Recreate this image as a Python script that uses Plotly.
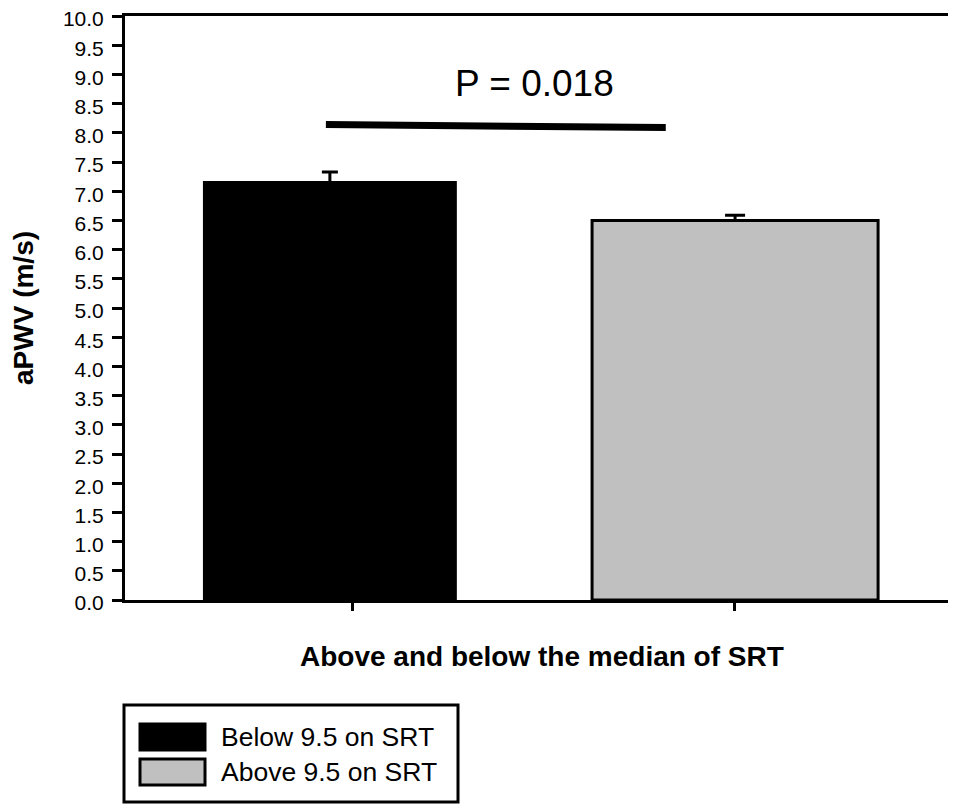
import plotly.graph_objects as go

# ---- data ----
categories = ["Below 9.5 on SRT", "Above 9.5 on SRT"]
means = [7.15, 6.50]
sem = [0.18, 0.09]
p_label = "P = 0.018"
sig_line_y = [8.14, 8.09]
y_ticks = [i * 0.5 for i in range(21)]
y_tick_labels = [f"{v:.1f}" for v in y_ticks]

# ---- layout constants (page pixels; page body has an 8px margin) ----
OFF = 8
W, H = 956 - OFF, 804 - OFF
L, R, T, B = 125 - OFF, 956 - OFF, 16 - OFF, 600 - OFF
FONT = "Liberation Sans, Arial, sans-serif"
colors = ["#000000", "#c0c0c0"]
bar_widths = [0.657, 0.749]
bar_offsets = [-0.389, -0.374]
cap_half = [8, 10]
xr = [-0.597, 1.579]


def px2paper_x(px):
    return (px - OFF - L) / (R - L)


def px2paper_y(py):
    return (B - (py - OFF)) / (B - T)


fig = go.Figure()
for i, (cat, m, e) in enumerate(zip(categories, means, sem)):
    fig.add_trace(go.Bar(
        x=[i], y=[m], name=cat,
        width=[bar_widths[i]], offset=[bar_offsets[i]],
        marker=dict(color=colors[i], line=dict(color="black", width=3)),
        error_y=dict(type="data", array=[e], arrayminus=[0], symmetric=False,
                     color="black", thickness=3, width=cap_half[i]),
        showlegend=False,
    ))

# significance line
sig_x = [-0.071, 0.819]
fig.add_trace(go.Scatter(x=sig_x, y=sig_line_y, mode="lines",
                         line=dict(color="black", width=7), showlegend=False,
                         hoverinfo="skip"))

annotations = [
    dict(x=0.475, y=8.85, xref="x", yref="y", text=p_label, showarrow=False,
         font=dict(family=FONT, size=37, color="black"),
         xanchor="center", yanchor="middle"),
    dict(x=px2paper_x(542), y=px2paper_y(657), xref="paper", yref="paper",
         text="<b>Above and below the median of SRT</b>", showarrow=False,
         font=dict(family=FONT, size=28, color="black"),
         xanchor="center", yanchor="middle"),
    dict(x=px2paper_x(23), y=px2paper_y(308), xref="paper", yref="paper",
         text="<b>aPWV (m/s)</b>", showarrow=False, textangle=-90,
         font=dict(family=FONT, size=28, color="black"),
         xanchor="center", yanchor="middle"),
]

shapes = [
    # legend box
    dict(type="rect", xref="paper", yref="paper",
         x0=px2paper_x(124), x1=px2paper_x(458),
         y0=px2paper_y(705), y1=px2paper_y(802),
         line=dict(color="black", width=3), fillcolor="white", layer="above"),
]
row_y = [737, 772]
for i, cat in enumerate(categories):
    shapes.append(dict(type="rect", xref="paper", yref="paper",
                       x0=px2paper_x(140), x1=px2paper_x(205),
                       y0=px2paper_y(row_y[i] - 13), y1=px2paper_y(row_y[i] + 13),
                       line=dict(color="black", width=3), fillcolor=colors[i],
                       layer="above"))
    annotations.append(dict(x=px2paper_x(219), y=px2paper_y(row_y[i]),
                            xref="paper", yref="paper", text=cat,
                            showarrow=False, xanchor="left", yanchor="middle",
                            font=dict(family=FONT, size=26.5, color="black")))

fig.update_layout(
    width=W, height=H,
    margin=dict(l=L, r=W - R, t=T, b=H - B, pad=0, autoexpand=False),
    plot_bgcolor="white", paper_bgcolor="white",
    barmode="overlay",
    showlegend=False,
    annotations=annotations,
    shapes=shapes,
    xaxis=dict(range=xr, tickvals=[0, 1], ticktext=["", ""], ticks="outside",
               ticklen=8, tickwidth=3, tickcolor="black", automargin=False,
               showline=True, linecolor="black", linewidth=3, mirror=True,
               showgrid=False, zeroline=False, fixedrange=True),
    yaxis=dict(range=[0, 10], tickvals=y_ticks, ticktext=y_tick_labels,
               ticks="outside", ticklen=10, tickwidth=3, tickcolor="black",
               ticklabelstandoff=4, ticklabeloverflow="allow", automargin=False,
               ticklabelshift=3,
               tickfont=dict(family=FONT, size=21, color="black"),
               showline=True, linecolor="black", linewidth=3,
               showgrid=False, zeroline=False, fixedrange=True),
)

fig.write_html("out.html")
